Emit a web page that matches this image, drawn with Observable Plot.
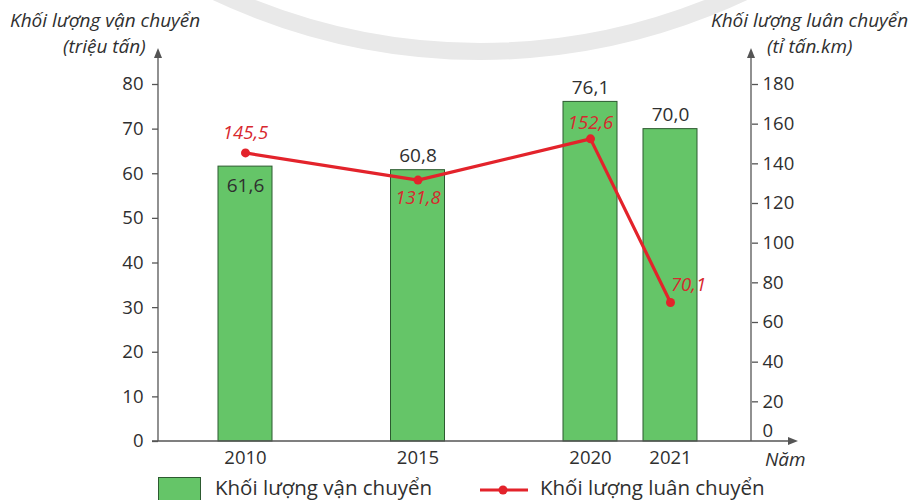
<!DOCTYPE html>
<html><head><meta charset="utf-8">
<script src="https://cdn.jsdelivr.net/npm/d3@7"></script>
<script src="https://cdn.jsdelivr.net/npm/@observablehq/plot@0.6"></script>
<style>
html,body{margin:0;padding:0;background:#fff;}
#wrap{position:relative;width:911px;height:500px;overflow:hidden;font-family:"Open Sans",sans-serif;color:#333;}
#arc{position:absolute;left:-145px;top:-1190px;width:1250px;height:1250px;border-radius:50%;box-sizing:border-box;border:17px solid #e9e9e9;z-index:0;}
#chart{position:absolute;left:0;top:0;z-index:1;}
.ttl{position:absolute;font-style:italic;font-size:19px;white-space:nowrap;z-index:2;color:#2f2f2f;}
.leg{position:absolute;font-size:20.5px;white-space:nowrap;z-index:2;color:#2f2f2f;}
</style></head><body>
<div id="wrap">
  <div id="arc"></div>
  <div id="chart"></div>
  <div class="ttl" style="left:10px;top:7px;">Khối lượng vận chuyển</div>
  <div class="ttl" style="left:63px;top:33px;">(triệu tấn)</div>
  <div class="ttl" style="left:711px;top:7px;">Khối lượng luân chuyển</div>
  <div class="ttl" style="left:767px;top:33px;">(tỉ tấn.km)</div>
  <div class="ttl" style="left:765px;top:446px;font-size:19px;">Năm</div>
  <div id="legend"></div>
</div>
<script>
const years = [2010, 2015, 2020, 2021];
const vanChuyen = [61.6, 60.8, 76.1, 70.0];   // triệu tấn
const luanChuyen = [145.5, 131.8, 152.6, 70.1]; // tỉ tấn.km
const leftTicks = [0, 10, 20, 30, 40, 50, 60, 70, 80];
const rightTicks = [0, 20, 40, 60, 80, 100, 120, 140, 160, 180];
const seriesNames = ["Khối lượng vận chuyển", "Khối lượng luân chuyển"];

const LEFT_MAX = 80, RIGHT_MAX = 180;
const toLeft = v => v * LEFT_MAX / RIGHT_MAX;
const fmt = v => d3.format(".1f")(v).replace(".", ",");

const data = years.map((year, i) => ({year, van: vanChuyen[i], luan: luanChuyen[i]}));

const GREEN = "#65c568", GREEN_DARK = "#2d5a30", RED = "#e3232b", RED_TXT = "#d8282e", INK = "#2f2f2f", AX = "#555";
const TICK_FS = 18.5;

function axisLines(index, scales, values, dim) {
  const g = d3.create("svg:g").attr("fill", AX).attr("stroke", AX);
  const xl = dim.marginLeft, xr = dim.width - dim.marginRight, y0 = scales.y(0), yt = dim.marginTop;
  g.append("path").attr("fill", "none").attr("stroke-width", 1.3).attr("d", `M${xl},${y0}V${yt + 8}`);
  g.append("path").attr("stroke", "none").attr("d", `M${xl},${yt}l-4,10h8z`);
  g.append("path").attr("fill", "none").attr("stroke-width", 1.3).attr("d", `M${xr},${y0}V${yt + 8}`);
  g.append("path").attr("stroke", "none").attr("d", `M${xr},${yt}l-4,10h8z`);
  g.append("path").attr("fill", "none").attr("stroke-width", 1.3).attr("d", `M${xl - 6},${y0}H${xr + 38}`);
  g.append("path").attr("stroke", "none").attr("d", `M${xr + 47},${y0}l-10,-4v8z`);
  return g.node();
}

const barLabel = (filter, dy) => Plot.text(data, {filter, x: "year", y: "van", text: d => fmt(d.van), dy,
  fontSize: 19, fill: INK});
const lineLabel = (filter, dx, dy) => Plot.text(data, {filter, x: "year", y: d => toLeft(d.luan), text: d => fmt(d.luan),
  dx, dy, fontSize: 18.5, fontStyle: "italic", fill: RED_TXT});

const chart = Plot.plot({
  width: 911, height: 472,
  marginLeft: 158, marginRight: 160, marginTop: 48, marginBottom: 31,
  style: {fontFamily: "'Open Sans', sans-serif", fontSize: "17px", background: "transparent", color: INK},
  x: {type: "linear", domain: [2010, 2020, 2021], range: [245, 590, 670], axis: null, label: null},
  y: {domain: [0, LEFT_MAX], range: [441, 84], axis: null, label: null},
  marks: [
    Plot.rectY(data, {x1: "year", x2: "year", y: "van", insetLeft: -27, insetRight: -27,
      fill: GREEN, stroke: GREEN_DARK, strokeWidth: 1}),
    axisLines,
    Plot.axisY(leftTicks, {anchor: "left", label: null, tickSize: 6, tickPadding: 9, stroke: AX, strokeWidth: 1.3,
      fill: INK, fontSize: TICK_FS}),
    Plot.axisY(rightTicks.filter(t => t > 0).map(toLeft), {anchor: "right", label: null, tickSize: 6, tickPadding: 5,
      stroke: AX, strokeWidth: 1.3, fill: INK, fontSize: TICK_FS, tickFormat: d => String(Math.round(d * RIGHT_MAX / LEFT_MAX))}),
    Plot.axisY([0], {anchor: "right", label: null, tickSize: 0, tickPadding: 11, dy: -10, fill: INK, fontSize: TICK_FS,
      tickFormat: d => "0"}),
    Plot.axisX(years, {anchor: "bottom", label: null, tickSize: 0, tickPadding: 9, fill: INK, fontSize: TICK_FS,
      tickFormat: d => String(d)}),
    Plot.line(data, {x: "year", y: d => toLeft(d.luan), stroke: RED, strokeWidth: 3.2}),
    Plot.dot(data, {x: "year", y: d => toLeft(d.luan), r: 4.5, fill: RED}),
    barLabel(d => d.year === 2010, 19),
    barLabel(d => d.year !== 2010, -14),
    lineLabel(d => d.year === 2010, 0, -20),
    lineLabel(d => d.year === 2015, 0, 18),
    lineLabel(d => d.year === 2020, 0, -16),
    lineLabel(d => d.year === 2021, 18, -17)
  ]
});
document.getElementById("chart").appendChild(chart);

const legend = document.getElementById("legend");
legend.innerHTML = `
  <div style="position:absolute;left:158px;top:477px;width:43px;height:30px;background:${GREEN};border:1px solid ${GREEN_DARK};box-sizing:border-box;z-index:2;"></div>
  <div class="leg" style="left:215px;top:473px;">${seriesNames[0]}</div>
  <svg style="position:absolute;left:478px;top:482px;z-index:2;" width="52" height="16">
    <line x1="2" y1="8" x2="50" y2="8" stroke="${RED}" stroke-width="3.2"/>
    <circle cx="25" cy="8" r="4.5" fill="${RED}"/>
  </svg>
  <div class="leg" style="left:540px;top:473px;">${seriesNames[1]}</div>`;
</script>
</body></html>
